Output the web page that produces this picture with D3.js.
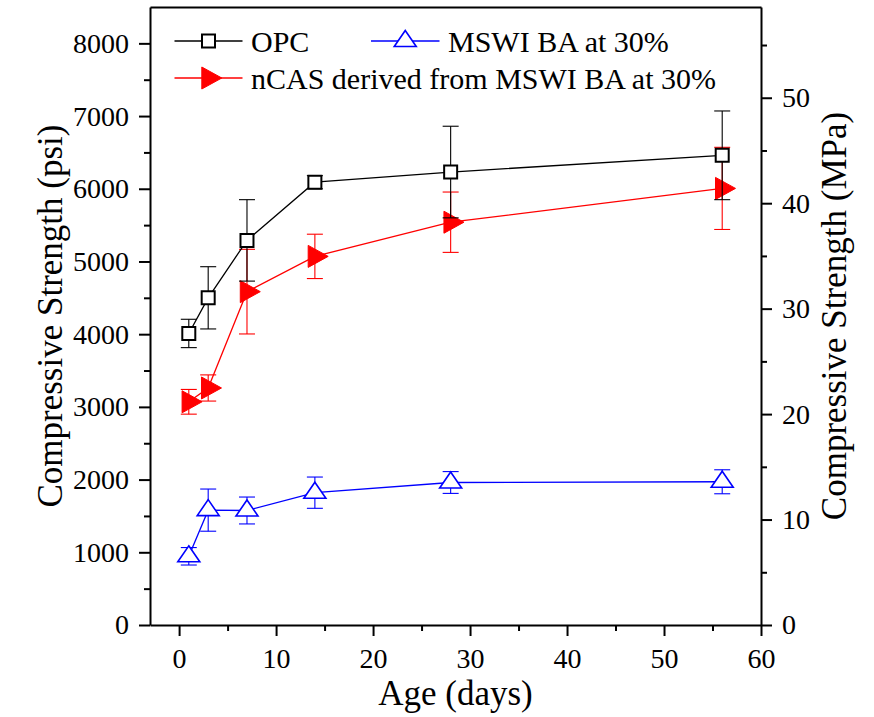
<!DOCTYPE html>
<html>
<head>
<meta charset="utf-8">
<script src="https://cdn.jsdelivr.net/npm/d3@7"></script>
<style>
  html, body { margin: 0; padding: 0; background: #fff; }
  svg { display: block; }
  svg text { font-family: "Liberation Serif", Tinos, "Nimbus Roman", "DejaVu Serif", serif !important; }
</style>
</head>
<body>
<svg id="chart" width="874" height="717"></svg>
<script>
// Curing age (days)
const days = [1, 3, 7, 14, 28, 56];

// Compressive strength (psi) and standard deviations
const opc      = [4010, 4500, 5290, 6090, 6230, 6460];
const opcErr   = [195, 428, 560, 90, 630, 610];
const ncas     = [3070, 3260, 4585, 5070, 5540, 6005];
const ncasErr  = [170, 180, 582, 305, 415, 565];
const mswi     = [945, 1580, 1575, 1820, 1960, 1970];
const mswiErr  = [120, 290, 185, 215, 150, 165];

// Axis ticks
const xTicks = [0, 10, 20, 30, 40, 50, 60];
const xMinor = [5, 15, 25, 35, 45, 55];
const psiTicks = [0, 1000, 2000, 3000, 4000, 5000, 6000, 7000, 8000];
const psiMinor = [500, 1500, 2500, 3500, 4500, 5500, 6500, 7500];
const mpaTicks = [0, 10, 20, 30, 40, 50];
const mpaMinor = [5, 15, 25, 35, 45, 55];

const seriesNames = ["OPC", "MSWI BA at 30%", "nCAS derived from MSWI BA at 30%"];

const PSI_PER_MPA = 145.038;

const svg = d3.select("#chart");
const plotL = 150, plotR = 761, plotT = 7, plotB = 625;

const x = d3.scaleLinear().domain([-3, 60]).range([plotL, plotR]);
const y = d3.scaleLinear().domain([0, 8500]).range([plotB, plotT]);
const yR = d3.scaleLinear().domain([0, 8500 / PSI_PER_MPA]).range([plotB, plotT]);

// marker shapes
const squarePath = "M-6.5,-6.5H6.5V6.5H-6.5Z";
const triUpPath = "M0,-10.5L11,5.5L-11,5.5Z";
const triRightPath = "M-6.7,-11L13.3,0L-6.7,11Z";

function styleAxis(g, size) {
  g.attr("font-family", null);
  g.select(".domain").attr("stroke", "#000").attr("stroke-width", 2);
  g.selectAll(".tick line").attr("stroke", "#000").attr("stroke-width", 2);
  g.selectAll(".tick text")
    .attr("fill", "#000")
    .style("font-size", size + "px");
}

// bottom axis
const gx = svg.append("g").attr("transform", `translate(0,${plotB})`)
  .call(d3.axisBottom(x).tickValues(xTicks).tickSize(11).tickSizeOuter(0).tickPadding(12).tickFormat(d3.format("d")));
styleAxis(gx, 28);
const gxm = svg.append("g").attr("transform", `translate(0,${plotB})`)
  .call(d3.axisBottom(x).tickValues(xMinor).tickSize(6).tickSizeOuter(0).tickFormat(""));
gxm.select(".domain").remove();
styleAxis(gxm, 28);

// top frame line
const gt = svg.append("g").attr("transform", `translate(0,${plotT})`)
  .call(d3.axisTop(x).tickValues([]).tickSizeOuter(0));
styleAxis(gt, 28);

// left axis (psi)
const gy = svg.append("g").attr("transform", `translate(${plotL},0)`)
  .call(d3.axisLeft(y).tickValues(psiTicks).tickSize(11).tickSizeOuter(0).tickPadding(10).tickFormat(d3.format("d")));
styleAxis(gy, 28);
const gym = svg.append("g").attr("transform", `translate(${plotL},0)`)
  .call(d3.axisLeft(y).tickValues(psiMinor).tickSize(6).tickSizeOuter(0).tickFormat(""));
gym.select(".domain").remove();
styleAxis(gym, 28);

// right axis (MPa)
const gr = svg.append("g").attr("transform", `translate(${plotR},0)`)
  .call(d3.axisRight(yR).tickValues(mpaTicks).tickSize(11).tickSizeOuter(0).tickPadding(10).tickFormat(d3.format("d")));
styleAxis(gr, 28);
const grm = svg.append("g").attr("transform", `translate(${plotR},0)`)
  .call(d3.axisRight(yR).tickValues(mpaMinor).tickSize(6).tickSizeOuter(0).tickFormat(""));
grm.select(".domain").remove();
styleAxis(grm, 28);

// axis titles
const midY = (plotT + plotB) / 2;
svg.append("text")
  .attr("transform", `translate(62,${midY}) rotate(-90)`)
  .attr("text-anchor", "middle")
  .style("font-size", "35px")
  .text("Compressive Strength (psi)");
svg.append("text")
  .attr("transform", `translate(846,${midY}) rotate(-90)`)
  .attr("text-anchor", "middle")
  .style("font-size", "35px")
  .text("Compressive Strength (MPa)");
svg.append("text")
  .attr("x", (plotL + plotR) / 2)
  .attr("y", 705)
  .attr("text-anchor", "middle")
  .style("font-size", "35px")
  .text("Age (days)");

// draw one series: connecting line, error bars, markers
function drawSeries(vals, errs, color, path, fill, strokeW) {
  const pts = days.map((d, i) => ({ d, v: vals[i], e: errs[i] }));
  const g = svg.append("g");
  g.append("path")
    .datum(pts)
    .attr("fill", "none")
    .attr("stroke", color)
    .attr("stroke-width", 1.3)
    .attr("d", d3.line().x(p => x(p.d)).y(p => y(p.v)));
  const eb = g.selectAll(".eb").data(pts).enter().append("g")
    .attr("stroke", color).attr("stroke-width", 1.1);
  eb.append("line")
    .attr("x1", p => x(p.d)).attr("x2", p => x(p.d))
    .attr("y1", p => y(p.v - p.e)).attr("y2", p => y(p.v + p.e));
  eb.append("line")
    .attr("x1", p => x(p.d) - 8).attr("x2", p => x(p.d) + 8)
    .attr("y1", p => y(p.v + p.e)).attr("y2", p => y(p.v + p.e));
  eb.append("line")
    .attr("x1", p => x(p.d) - 8).attr("x2", p => x(p.d) + 8)
    .attr("y1", p => y(p.v - p.e)).attr("y2", p => y(p.v - p.e));
  g.selectAll(".mk").data(pts).enter().append("path")
    .attr("d", path)
    .attr("transform", p => `translate(${x(p.d)},${y(p.v)})`)
    .attr("fill", fill)
    .attr("stroke", color)
    .attr("stroke-width", strokeW);
}

drawSeries(mswi, mswiErr, "#0000ff", triUpPath, "#fff", 1.6);
drawSeries(ncas, ncasErr, "#ff0000", triRightPath, "#ff0000", 1);
drawSeries(opc, opcErr, "#000000", squarePath, "#fff", 2);

// legend
const legendItems = [
  { name: seriesNames[0], color: "#000000", path: squarePath, fill: "#fff", sw: 2, x0: 174.5, x1: 242.5, cy: 41, tx: 251 },
  { name: seriesNames[1], color: "#0000ff", path: triUpPath, fill: "#fff", sw: 1.6, x0: 371, x1: 439.5, cy: 41, tx: 448 },
  { name: seriesNames[2], color: "#ff0000", path: triRightPath, fill: "#ff0000", sw: 1, x0: 174.5, x1: 242.5, cy: 78, tx: 251 }
];
const lg = svg.append("g").selectAll("g").data(legendItems).enter().append("g");
lg.append("line")
  .attr("x1", d => d.x0).attr("x2", d => d.x1)
  .attr("y1", d => d.cy).attr("y2", d => d.cy)
  .attr("stroke", d => d.color).attr("stroke-width", 1.3);
lg.append("path")
  .attr("d", d => d.path)
  .attr("transform", d => `translate(${(d.x0 + d.x1) / 2},${d.cy})`)
  .attr("fill", d => d.fill).attr("stroke", d => d.color).attr("stroke-width", d => d.sw);
lg.append("text")
  .attr("x", d => d.tx).attr("y", d => d.cy + 10.5)
  .style("font-size", "30px")
  .text(d => d.name);
</script>
</body>
</html>
